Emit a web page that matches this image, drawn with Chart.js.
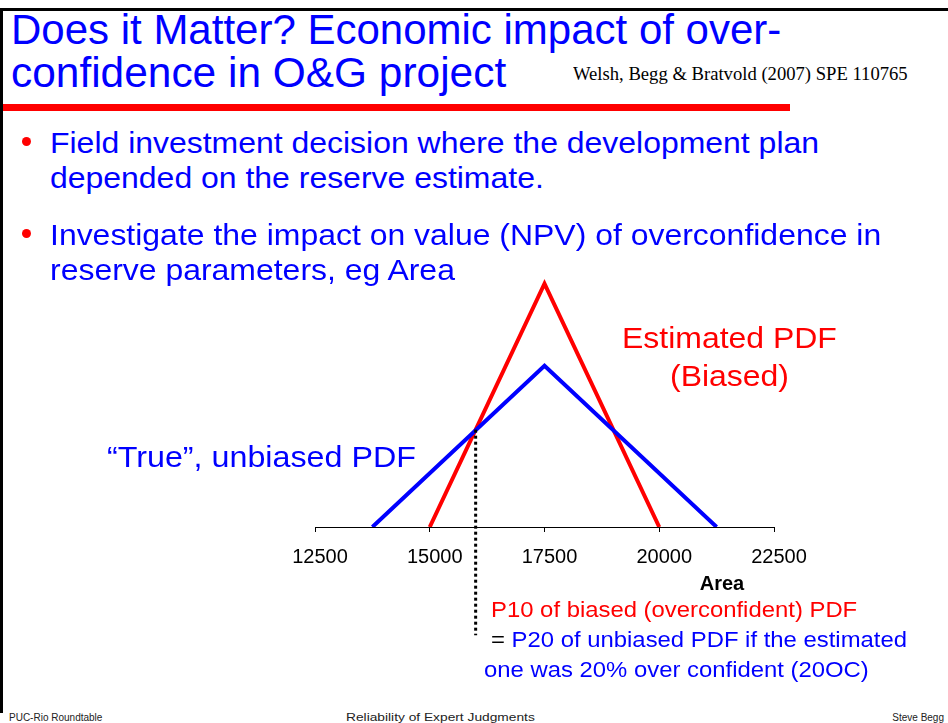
<!DOCTYPE html>
<html>
<head>
<meta charset="utf-8">
<script src="https://cdn.jsdelivr.net/npm/chart.js@4.4.0/dist/chart.umd.min.js"></script>
<style>
  html, body { margin: 0; padding: 0; background: #fff; }
  #slide { position: relative; width: 948px; height: 723px; overflow: hidden; background: #fff;
           font-family: "Liberation Sans", Arial, sans-serif; }
  .t { position: absolute; white-space: pre; line-height: 1; transform-origin: 0 0; }
  .bar { position: absolute; }
  #chartBox { position: absolute; left: 255px; top: 250px; width: 580px; height: 402px; }
</style>
</head>
<body>
<div id="slide">
  <div class="bar" style="left:0;top:8px;width:948px;height:3px;background:#000"></div>
  <div class="bar" style="left:0;top:8px;width:3px;height:705px;background:#000"></div>
  <div class="bar" style="left:3px;top:104px;width:787px;height:7px;background:#ff0000"></div>
  <div class="bar" style="left:22px;top:137px;width:9px;height:9px;border-radius:50%;background:#ff0000"></div>
  <div class="bar" style="left:22px;top:229px;width:9px;height:9px;border-radius:50%;background:#ff0000"></div>
  <div id="chartBox"><canvas id="pdfChart"></canvas></div>
</div>
<script>
// values (density in arbitrary units x1e-4)
const areaTicks = [12500, 15000, 17500, 20000, 22500];
const biasedArea = [15000, 17500, 20000];
const biasedPdf = [0, 4.0, 0];
const trueArea = [13750, 17500, 21250];
const truePdf = [0, 2.65, 0];
const p10Area = [16000, 16000];
const p10Pdf = [1.6, -1.78];

const BLUE = '#0000ff';
const RED = '#ff0000';

function pts(xs, ys) {
    return xs.map((x, i) => ({ x: x, y: ys[i] }));
}

// slide text
const slide = document.getElementById('slide');

function place(html, x, base, size, opts) {
    opts = opts || {};
    const el = document.createElement('span');
    el.className = 't';
    el.innerHTML = html;
    el.style.fontSize = size + 'px';
    el.style.color = opts.color || '#000';
    if (opts.bold) el.style.fontWeight = 'bold';
    if (opts.serif) el.style.fontFamily = '"Liberation Serif", "Times New Roman", serif';
    const k = opts.serif ? 0.8375 : 0.8465;
    el.style.top = (base - k * size) + 'px';
    slide.appendChild(el);
    const scale = opts.scale || 1;
    const w = el.getBoundingClientRect().width * scale;
    let left = x;
    if (opts.align == 'center') left = x - w / 2;
    if (opts.align == 'right') left = x - w;
    el.style.left = left + 'px';
    el.style.transform = 'scaleX(' + scale + ')';
}

place('Does it Matter? Economic impact of over-', 11, 45, 42, { color: BLUE });
place('confidence in O&amp;G project', 11, 88, 42, { color: BLUE, scale: 1.01 });
place('Welsh, Begg &amp; Bratvold (2007) SPE 110765', 573, 80, 18, { serif: true, scale: 1.035 });

const body = { color: BLUE, scale: 1.065 };
place('Field investment decision where the development plan', 50, 153, 30, body);
place('depended on the reserve estimate.', 50, 188, 30, body);
place('Investigate the impact on value (NPV) of overconfidence in', 50, 245, 30, body);
place('reserve parameters, eg Area', 50, 280, 30, body);

place('Estimated PDF', 729, 348, 30, { color: RED, scale: 1.065, align: 'center' });
place('(Biased)', 729, 386, 30, { color: RED, scale: 1.065, align: 'center' });
place('\u201cTrue\u201d, unbiased PDF', 107, 467, 30, { color: BLUE, scale: 1.075 });
place('Area', 722, 590, 20, { bold: true, align: 'center' });

place('P10 of biased (overconfident) PDF', 491, 618, 22, { color: RED, scale: 1.085 });
place('= <span style="color:#0000ff">P20 of unbiased PDF if the estimated</span>', 491, 648, 22, { scale: 1.085 });
place('one was 20% over confident (20OC)', 484, 678, 22, { color: BLUE, scale: 1.085 });

place('PUC-Rio Roundtable', 9, 721, 10, { color: '#222' });
place('Reliability of Expert Judgments', 440, 721, 11, { color: '#222', align: 'center', scale: 1.25 });
place('Steve Begg', 944, 721, 10, { color: '#222', align: 'right' });

// chart (canvas reaches below the axis so the P10 marker can run past it)
const ctx = document.getElementById('pdfChart');

new Chart(ctx, {
    type: 'line',
    data: {
        datasets: [
            {
                label: 'P10',
                data: pts(p10Area, p10Pdf),
                borderColor: '#000',
                borderWidth: 3,
                borderDash: [3, 3],
                pointRadius: 0,
                clip: false
            },
            {
                label: 'True, unbiased PDF',
                data: pts(trueArea, truePdf),
                borderColor: BLUE,
                borderWidth: 4,
                pointRadius: 0
            },
            {
                label: 'Estimated PDF (Biased)',
                data: pts(biasedArea, biasedPdf),
                borderColor: RED,
                borderWidth: 4,
                pointRadius: 0
            }
        ]
    },
    options: {
        animation: false,
        responsive: true,
        maintainAspectRatio: false,
        layout: { padding: { left: 60, right: 61, top: 10, bottom: 70 } },
        plugins: {
            legend: { display: false },
            tooltip: { enabled: false }
        },
        scales: {
            x: {
                type: 'linear',
                min: 12500,
                max: 22500,
                afterBuildTicks: axis => { axis.ticks = areaTicks.map(v => ({ value: v })); },
                ticks: {
                    color: '#000',
                    font: { family: 'Liberation Sans', size: 20 },
                    padding: 13,
                    labelOffset: 5,
                    maxRotation: 0,
                    autoSkip: false,
                    callback: v => String(v)
                },
                grid: { drawOnChartArea: false, color: '#000', tickLength: 5, lineWidth: 1 },
                border: { color: '#000', width: 1 }
            },
            y: { display: false, min: 0, max: 4.39 }
        }
    }
});
</script>
</body>
</html>
